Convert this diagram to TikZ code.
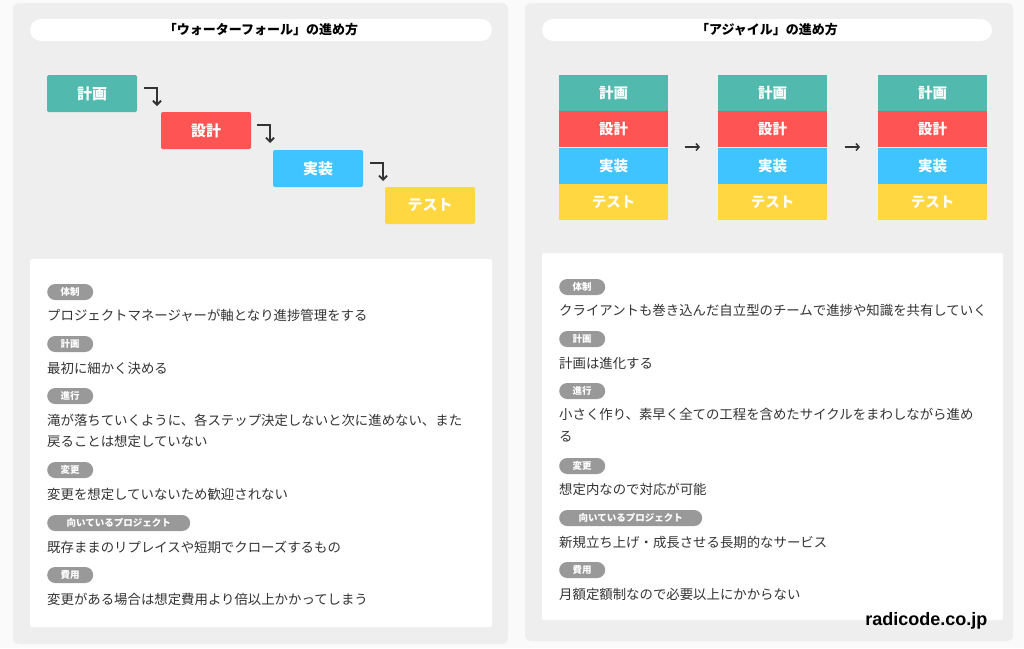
\documentclass[tikz,border=0pt]{standalone}
\usepackage{fontspec}
\setmainfont{Noto Sans CJK JP}
\newfontfamily\latinbold{Liberation Sans}
\usetikzlibrary{positioning, arrows.meta}
\definecolor{teal}{HTML}{52B9AE}
\definecolor{redbox}{HTML}{FE5454}
\definecolor{bluebox}{HTML}{40C4FF}
\definecolor{yellowbox}{HTML}{FFD740}
\definecolor{panel}{HTML}{EEEEEE}
\definecolor{tagc}{HTML}{999999}
\definecolor{txt}{HTML}{333333}

\begin{document}
\begin{tikzpicture}[x=1pt,y=-1pt]
\tikzset{
  panelbox/.style={
    fill=panel,
    rounded corners=6pt
  },
  pill/.style={
    fill=white,
    rounded corners=11pt
  },
  card/.style={
    fill=white,
    rounded corners=2pt
  },
  stage/.style={
    rounded corners=1.5pt,
    text=white,
    font=\fontsize{15}{15}\selectfont\bfseries,
    minimum width=90pt,
    minimum height=37pt,
    inner sep=0pt
  },
  agile/.style={
    text=white,
    font=\fontsize{14.5}{14.5}\selectfont\bfseries,
    minimum width=109pt,
    minimum height=36pt,
    inner sep=0pt
  },
  tag/.style={
    fill=tagc,
    text=white,
    rounded corners=8pt,
    font=\fontsize{9.5}{9.5}\selectfont\bfseries,
    minimum width=46pt,
    minimum height=16pt,
    inner xsep=6pt,
    inner ysep=2pt,
    anchor=west
  },
  widetag/.style={
    tag,
    minimum width=143pt
  },
  body/.style={
    text=txt,
    font=\fontsize{13.4}{13.4}\selectfont,
    anchor=west,
    inner sep=0pt
  },
  steparrow/.style={
    draw=txt,
    line width=1.8pt,
    -{Straight Barb[length=4pt,width=8pt]}
  }
}
\useasboundingbox (0,0) rectangle (1024,648);
\fill[white!98!black] (0,0) rectangle (1024,648);

% Panels
\fill[panelbox] (13,3) rectangle (508,644);
\fill[panelbox] (525,3) rectangle (1013,641);
\fill[pill] (30,19) rectangle (492,41);
\fill[pill] (542,19) rectangle (992,41);
\node (wtitle) [font=\fontsize{13}{13}\selectfont\bfseries] at (261,30) {「ウォーターフォール」の進め方};
\node (atitle) [font=\fontsize{13}{13}\selectfont\bfseries] at (767,30) {「アジャイル」の進め方};

% Waterfall
\node (plan) [stage, fill=teal] at (92,93.5) {計画};
\node (design) [stage, fill=redbox] at (206,130.5) {設計};
\node (impl) [stage, fill=bluebox] at (318,168.5) {実装};
\node (test) [stage, fill=yellowbox] at (430,205.5) {テスト};
\coordinate (c1) at (144,88);
\coordinate (c2) at (257,125);
\coordinate (c3) at (370,163);
\draw[steparrow] (c1) -| ++(13,18);
\draw[steparrow] (c2) -| ++(13,18);
\draw[steparrow] (c3) -| ++(13,18);

% Agile
\foreach \i/\x in {1/613.5,2/772.5,3/932.5}{
  \node (plan\i) [agile, fill=teal] at (\x,93) {計画};
  \node (design\i) [agile, fill=redbox, below=0pt of plan\i] {設計};
  \node (impl\i) [agile, fill=bluebox, below=0pt of design\i] {実装};
  \node (test\i) [agile, fill=yellowbox, below=0pt of impl\i] {テスト};
}
\draw[steparrow, line width=1.5pt, -{Straight Barb[length=3pt,width=7pt]}] (685,147) -- (700,147);
\draw[steparrow, line width=1.5pt, -{Straight Barb[length=3pt,width=7pt]}] (845,147) -- (860,147);

% Waterfall card
\fill[card] (30,259) rectangle (492,627);
\node (wt1) [tag] at (47,292) {体制};
\node (wb1) [body] at (47,315) {プロジェクトマネージャーが軸となり進捗管理をする};
\node (wt2) [tag] at (47,344) {計画};
\node (wb2) [body] at (47,368) {最初に細かく決める};
\node (wt3) [tag] at (47,396) {進行};
\node (wb3) [body] at (47,420) {滝が落ちていくように、各ステップ決定しないと次に進めない、また};
\node (wb3b) [body] at (47,441) {戻ることは想定していない};
\node (wt4) [tag] at (47,470) {変更};
\node (wb4) [body] at (47,494) {変更を想定していないため歓迎されない};
\node (wt5) [widetag] at (47,523) {向いているプロジェクト};
\node (wb5) [body] at (47,547) {既存ままのリプレイスや短期でクローズするもの};
\node (wt6) [tag] at (47,575) {費用};
\node (wb6) [body] at (47,599) {変更がある場合は想定費用より倍以上かかってしまう};

% Agile card
\fill[card] (542,253) rectangle (1003,620);
\node (at1) [tag] at (559,287) {体制};
\node (ab1) [body] at (559,310) {クライアントも巻き込んだ自立型のチームで進捗や知識を共有していく};
\node (at2) [tag] at (559,339) {計画};
\node (ab2) [body] at (559,363) {計画は進化する};
\node (at3) [tag] at (559,391) {進行};
\node (ab3) [body] at (559,414) {小さく作り、素早く全ての工程を含めたサイクルをまわしながら進め};
\node (ab3b) [body] at (559,437) {る};
\node (at4) [tag] at (559,466) {変更};
\node (ab4) [body] at (559,489) {想定内なので対応が可能};
\node (at5) [widetag] at (559,518) {向いているプロジェクト};
\node (ab5) [body] at (559,542) {新規立ち上げ・成長させる長期的なサービス};
\node (at6) [tag] at (559,570) {費用};
\node (ab6) [body] at (559,594) {月額定額制なので必要以上にかからない};

\node (site) [font=\latinbold\fontsize{18}{18}\selectfont\bfseries, anchor=east] at (991,621) {radicode.co.jp};
\end{tikzpicture}
\end{document}
